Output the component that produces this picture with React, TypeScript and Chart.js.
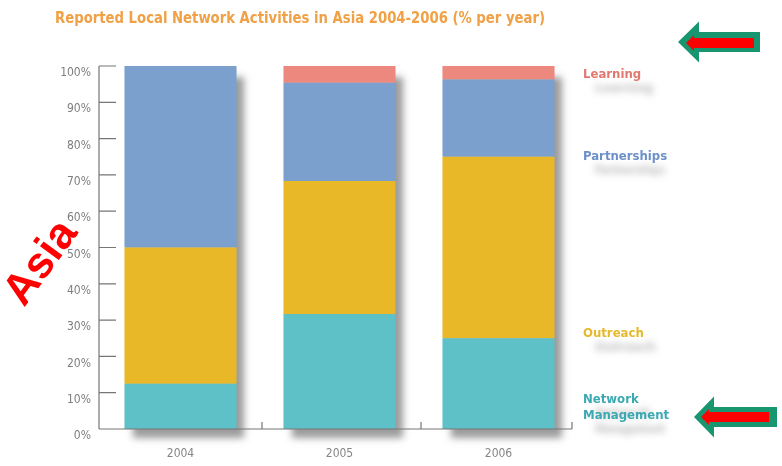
import React, { useEffect, useRef } from 'react';
import { Chart, registerables } from 'chart.js';

Chart.register(...registerables);

const categories = ['2004', '2005', '2006'];
const networkManagement = [12.5, 31.7, 25.0];
const outreach = [37.5, 36.6, 50.0];
const partnerships = [50.0, 27.1, 21.3];
const learning = [0, 4.6, 3.7];
const yTickValues = [0, 10, 20, 30, 40, 50, 60, 70, 80, 90, 100];

const seriesNames = ['Network Management', 'Outreach', 'Partnerships', 'Learning'];
const seriesColors = ['#5EC1C7', '#E9B829', '#7BA0CE', '#EC887D'];
const labelColors = ['#3AA9B2', '#E6B82C', '#6C90C9', '#E2796F'];
// legend text lines and their anchor (in % of the y axis)
const legendLines = [
  { text: 'Learning', value: 97.5, color: labelColors[3] },
  { text: 'Partnerships', value: 74.9, color: labelColors[2] },
  { text: 'Outreach', value: 26.4, color: labelColors[1] },
  { text: 'Network', value: 8.0, color: labelColors[0] },
  { text: 'Management', value: 3.6, color: labelColors[0] },
];

const TITLE = 'Reported Local Network Activities in Asia 2004-2006 (% per year)';
const FONT = '"DejaVu Sans Condensed", "Liberation Sans Narrow", "DejaVu Sans", sans-serif';

function drawArrow(ctx: CanvasRenderingContext2D, tipX: number, tipY: number, headX: number, headHalf: number, shaftHalf: number, endX: number, color: string) {
  ctx.beginPath();
  ctx.moveTo(tipX, tipY);
  ctx.lineTo(headX, tipY - headHalf);
  ctx.lineTo(headX, tipY - shaftHalf);
  ctx.lineTo(endX, tipY - shaftHalf);
  ctx.lineTo(endX, tipY + shaftHalf);
  ctx.lineTo(headX, tipY + shaftHalf);
  ctx.lineTo(headX, tipY + headHalf);
  ctx.closePath();
  ctx.fillStyle = color;
  ctx.fill();
}

const decorPlugin = {
  id: 'decor',
  beforeDatasetsDraw(chart: any) {
    const ctx = chart.ctx as CanvasRenderingContext2D;
    const y = chart.scales.y;
    const meta0 = chart.getDatasetMeta(0);
    categories.forEach((_, i) => {
      const el = meta0.data[i];
      const total = networkManagement[i] + outreach[i] + partnerships[i] + learning[i];
      const top = y.getPixelForValue(Math.min(total, 100));
      const bottom = y.getPixelForValue(0);
      ctx.save();
      ctx.shadowColor = 'rgba(95,95,95,0.62)';
      ctx.shadowBlur = 7;
      ctx.shadowOffsetX = 8;
      ctx.shadowOffsetY = 10;
      ctx.fillStyle = '#bdbdbd';
      ctx.fillRect(el.x - el.width / 2 + 1, top + 1, el.width - 2, bottom - top - 2);
      ctx.restore();
    });
  },
  afterDatasetsDraw(chart: any) {
    const ctx = chart.ctx as CanvasRenderingContext2D;
    const { chartArea } = chart;
    const x = chart.scales.x;
    const y = chart.scales.y;
    const axisX = chartArea.left - 2;
    const base = y.getPixelForValue(0);
    ctx.save();
    ctx.strokeStyle = '#767676';
    ctx.lineWidth = 1.2;
    ctx.beginPath();
    ctx.moveTo(axisX, y.getPixelForValue(100));
    ctx.lineTo(axisX, base);
    yTickValues.forEach((v) => {
      const py = y.getPixelForValue(v);
      ctx.moveTo(axisX, py);
      ctx.lineTo(axisX + 17, py);
    });
    const endX = chartArea.right - 6;
    ctx.moveTo(axisX, base);
    ctx.lineTo(endX, base);
    for (let i = 0; i < categories.length - 1; i++) {
      const bx = (x.getPixelForValue(i) + x.getPixelForValue(i + 1)) / 2 + 2;
      ctx.moveTo(bx, base);
      ctx.lineTo(bx, base - 7);
    }
    ctx.moveTo(endX, base);
    ctx.lineTo(endX, base - 7);
    ctx.stroke();
    ctx.restore();
  },
  afterDraw(chart: any) {
    const ctx = chart.ctx as CanvasRenderingContext2D;
    const y = chart.scales.y;
    const { chartArea } = chart;
    ctx.save();
    // title
    ctx.font = `bold 15px ${FONT}`;
    ctx.fillStyle = '#F0A045';
    ctx.textBaseline = 'middle';
    ctx.textAlign = 'left';
    ctx.fillText(TITLE, 55, 19, 490);

    // legend labels with blurred shadows
    const lx = chartArea.right + 5;
    ctx.font = `bold 13px ${FONT}`;
    legendLines.forEach((l) => {
      const py = y.getPixelForValue(l.value);
      ctx.save();
      ctx.filter = 'blur(3.5px)';
      ctx.fillStyle = 'rgba(120,120,120,0.5)';
      ctx.fillText(l.text, lx + 12, py + 14, 70);
      ctx.restore();
    });
    legendLines.forEach((l) => {
      const py = y.getPixelForValue(l.value);
      ctx.fillStyle = l.color;
      ctx.fillText(l.text, lx, py);
    });

    // "Asia" annotation
    ctx.save();
    ctx.translate(24, 308);
    ctx.rotate((-54 * Math.PI) / 180);
    ctx.font = 'bold 44px "Liberation Sans", Arial, sans-serif';
    ctx.fillStyle = '#FF0000';
    ctx.textBaseline = 'alphabetic';
    ctx.fillText('Asia', 0, 0);
    ctx.restore();

    // arrows
    drawArrow(ctx, 678, 42, 699, 20.5, 10, 760, '#17966F');
    drawArrow(ctx, 686, 43, 694, 8, 5, 754, '#FF0000');
    drawArrow(ctx, 694, 417, 714, 20.5, 10, 777, '#17966F');
    drawArrow(ctx, 701, 417, 709, 8, 5, 769, '#FF0000');
    ctx.restore();
  },
};

export default function App() {
  const canvasRef = useRef<HTMLCanvasElement | null>(null);

  useEffect(() => {
    if (!canvasRef.current) return;
    const seriesData = [networkManagement, outreach, partnerships, learning];
    const chart = new Chart(canvasRef.current, {
      type: 'bar',
      data: {
        labels: categories,
        datasets: seriesData.map((d, i) => ({
          label: seriesNames[i],
          data: d,
          backgroundColor: seriesColors[i],
          borderWidth: 0,
          categoryPercentage: 1,
          barPercentage: 0.705,
        })),
      },
      options: {
        responsive: false,
        animation: false,
        layout: { padding: { top: 66, right: 204, bottom: 0, left: 0 } },
        plugins: {
          legend: { display: false },
          title: { display: false },
          tooltip: { enabled: false },
        },
        scales: {
          x: {
            stacked: true,
            grid: { display: false, drawTicks: false },
            border: { display: false },
            ticks: {
              color: '#858585',
              font: { family: FONT, size: 12 },
              padding: 18,
            },
            afterFit: (scale: any) => {
              scale.height = 37;
            },
          },
          y: {
            stacked: true,
            min: 0,
            max: 100,
            grid: { display: false, drawTicks: false },
            border: { display: false },
            ticks: {
              stepSize: 10,
              color: '#7e7e7e',
              font: { family: FONT, size: 12 },
              padding: 10,
              labelOffset: 7,
              callback: (v: any) => `${v}%`,
            },
            afterFit: (scale: any) => {
              scale.width = 101;
            },
          },
        },
      },
      plugins: [decorPlugin],
    });
    return () => chart.destroy();
  }, []);

  return (
    <div style={{ position: 'absolute', left: 0, top: 0, width: 782, height: 466, background: '#ffffff' }}>
      <canvas ref={canvasRef} width={782} height={466} style={{ display: 'block' }} />
    </div>
  );
}
